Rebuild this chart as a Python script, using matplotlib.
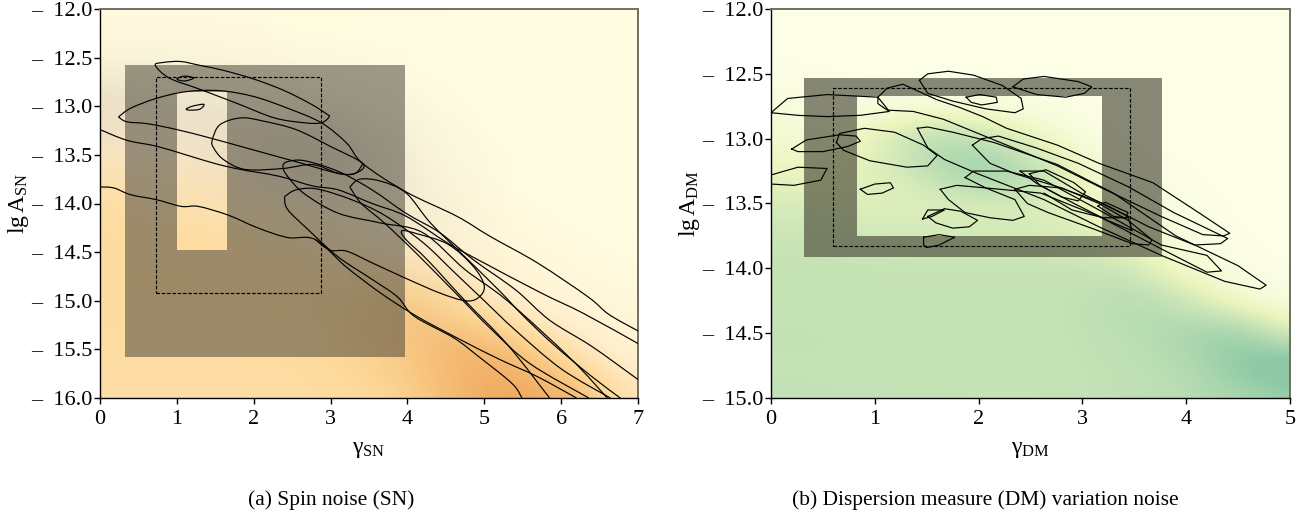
# -*- coding: utf-8 -*-
import numpy as np
import matplotlib
matplotlib.use('Agg')
import matplotlib.pyplot as plt
from matplotlib.colors import LinearSegmentedColormap
from matplotlib.patches import PathPatch, Rectangle
from matplotlib.path import Path

plt.rcParams['font.family'] = ['Liberation Serif', 'DejaVu Serif']
plt.rcParams['mathtext.fontset'] = 'custom'
plt.rcParams['mathtext.rm'] = 'Liberation Serif'
plt.rcParams['mathtext.it'] = 'Liberation Serif'
plt.rcParams['mathtext.default'] = 'rm'

# background density, rows go from top to bottom
sn_density = [
    [.02, .02, .02, .02, .01, .00, .00, .00],
    [.04, .03, .02, .01, .00, .00, .00, .00],
    [.16, .12, .08, .03, .00, .00, .00, .00],
    [.30, .26, .20, .10, .03, .00, .00, .00],
    [.44, .40, .34, .24, .10, .03, .00, .00],
    [.46, .46, .46, .40, .28, .10, .03, .00],
    [.46, .46, .46, .48, .66, .30, .10, .04],
    [.44, .44, .44, .48, .60, .86, .40, .12],
    [.42, .42, .42, .44, .50, .80, .88, .30],
]
sn_smoke = [
    [.00, .00, .00, .00, .00, .00, .00, .00],
    [.02, .02, .01, .00, .00, .00, .00, .00],
    [.20, .18, .14, .08, .02, .00, .00, .00],
    [.03, .04, .20, .35, .06, .00, .00, .00],
    [.00, .00, .02, .10, .10, .00, .00, .00],
    [.00, .00, .00, .00, .04, .00, .00, .00],
    [.00, .00, .00, .00, .08, .00, .00, .00],
    [.00, .00, .00, .00, .00, .00, .00, .00],
    [.00, .00, .00, .00, .00, .00, .00, .00],
]
dm_density = [
    [.00, .00, .00, .00, .00, .00, .00, .00, .00, .00, .00],
    [.00, .00, .00, .00, .00, .00, .00, .00, .00, .00, .00],
    [.01, .00, .00, .00, .00, .00, .00, .00, .00, .00, .00],
    [.04, .03, .02, .03, .03, .02, .00, .00, .00, .00, .00],
    [.10, .10, .24, .52, .45, .20, .03, .00, .00, .00, .00],
    [.20, .20, .24, .42, .68, .55, .14, .02, .00, .00, .00],
    [.32, .28, .26, .25, .28, .28, .20, .07, .01, .00, .00],
    [.38, .38, .35, .33, .33, .33, .30, .14, .03, .00, .00],
    [.40, .40, .40, .40, .40, .40, .40, .34, .07, .01, .00],
    [.40, .40, .40, .40, .40, .40, .42, .52, .38, .08, .01],
    [.42, .42, .41, .40, .40, .40, .42, .46, .56, .66, .24],
    [.41, .41, .40, .40, .40, .40, .41, .44, .48, .72, .92],
    [.42, .42, .41, .41, .40, .40, .41, .43, .46, .52, .62],
]

# SN credible contours
sn_top = [(.72, -12.58), (.82, -12.55), (1.05, -12.54), (1.3, -12.58), (1.6, -12.63), (2.0, -12.72), (2.4, -12.84),
          (2.75, -12.98), (2.95, -13.08), (2.98, -13.11), (2.88, -13.17), (2.66, -13.17), (2.27, -13.12),
          (1.78, -12.97), (1.28, -12.82), (.9, -12.71), (.72, -12.58)]
sn_small_a = [(1.0, -12.72), (1.1, -12.69), (1.22, -12.71), (1.1, -12.74), (1.0, -12.72)]
sn_small_b = [(1.12, -13.03), (1.2, -13.0), (1.35, -12.98), (1.3, -13.03), (1.18, -13.04), (1.12, -13.03)]
sn_long_a = [(.24, -13.11), (.4, -13.02), (.73, -12.92), (1.12, -12.85), (1.56, -12.84), (2.0, -12.9), (2.44, -13.02),
             (2.88, -13.17), (3.21, -13.38), (3.42, -13.59), (3.98, -13.88), (4.64, -14.13), (5.08, -14.34),
             (5.69, -14.61), (6.35, -14.96), (6.62, -15.14), (7.0, -15.31)]
sn_long_a2 = [(.24, -13.11), (.35, -13.16), (.62, -13.18), (1.0, -13.24), (1.45, -13.33), (2.0, -13.45),
              (2.55, -13.57), (3.1, -13.69), (3.32, -13.69), (3.42, -13.59)]
sn_long_b = [(0, -13.24), (.35, -13.35), (.73, -13.41), (1.12, -13.5), (1.5, -13.59), (1.83, -13.65), (2.33, -13.72),
             (2.77, -13.82), (3.1, -13.86), (3.54, -14.0), (3.98, -14.13), (4.53, -14.41), (4.97, -14.6),
             (5.74, -14.92), (6.29, -15.13), (7.0, -15.44)]
sn_blob = [(1.46, -13.35), (1.56, -13.19), (1.83, -13.12), (2.11, -13.15), (2.55, -13.24), (2.99, -13.41),
           (3.42, -13.59), (3.32, -13.69), (3.1, -13.69), (2.77, -13.6), (2.38, -13.64), (1.89, -13.65),
           (1.61, -13.55), (1.48, -13.43), (1.46, -13.35)]
sn_long_c = [(6.6, -16), (6.13, -15.6), (5.3, -15.0), (4.75, -14.68), (4.2, -14.3), (3.65, -14.2), (3.1, -14.1),
             (2.66, -13.9), (2.44, -13.72), (2.38, -13.62), (2.44, -13.57), (2.66, -13.56), (3.1, -13.67),
             (3.54, -13.86), (3.98, -14.1), (4.42, -14.3), (4.86, -14.58), (5.41, -14.89), (5.85, -15.2),
             (6.4, -15.47), (7.0, -15.81)]
sn_long_d = [(2.4, -13.93), (2.55, -13.86), (2.82, -13.85), (3.27, -13.96), (3.7, -14.12), (4.2, -14.4), (4.6, -14.7),
             (5.0, -15.0), (5.4, -15.3), (6.0, -15.7), (6.64, -16)]
sn_long_d2 = [(2.4, -13.93), (2.44, -14.06), (2.71, -14.27), (3.1, -14.55), (3.54, -14.78), (3.87, -14.96),
              (4.09, -15.16), (4.6, -15.38), (4.92, -15.57), (5.36, -15.85), (5.49, -16)]
sn_long_e = [(3.25, -13.83), (3.38, -13.75), (3.65, -13.77), (3.98, -13.89), (4.3, -14.2), (4.75, -14.55),
             (5.2, -14.9), (5.5, -15.15), (5.9, -15.45), (6.4, -15.78), (6.77, -16)]
sn_long_e2 = [(3.25, -13.83), (3.4, -14.0), (3.7, -14.2), (4.1, -14.5), (4.6, -14.9), (5.1, -15.3), (5.6, -15.65),
              (6.36, -16)]
sn_low = [(0, -13.83), (.18, -13.84), (.4, -13.91), (.73, -13.96), (1.06, -14.03), (1.28, -14.03), (1.67, -14.12),
          (2.05, -14.25), (2.44, -14.35), (2.8, -14.37), (3.2, -14.65), (3.65, -14.92), (4.1, -15.15), (4.64, -15.38),
          (5.19, -15.6), (5.69, -15.78), (6.2, -16)]
sn_low2 = [(2.8, -14.37), (2.99, -14.48), (3.21, -14.49), (3.54, -14.61), (3.98, -14.77), (4.42, -14.92), (4.75, -15.0),
           (4.92, -14.97), (5.0, -14.85), (4.86, -14.65), (4.53, -14.42), (4.12, -14.31), (3.93, -14.28),
           (3.98, -14.37), (4.26, -14.58), (4.75, -15.0), (5.3, -15.45), (5.85, -16)]

# DM credible contours
dm_a = [(0, -12.80), (.16, -12.69), (.54, -12.66), (1.03, -12.68), (1.14, -12.79), (.86, -12.82), (.54, -12.83),
        (.26, -12.82), (0, -12.80)]
dm_long_a = [(1.03, -12.68), (1.12, -12.61), (1.27, -12.58), (1.6, -12.70), (1.82, -12.76), (2.04, -12.83),
             (2.27, -12.92), (2.76, -13.05), (3.16, -13.19), (3.68, -13.34), (4.12, -13.57), (4.42, -13.73),
             (4.36, -13.75), (4.16, -13.74), (3.76, -13.6), (3.16, -13.37), (2.76, -13.21), (2.15, -13.01),
             (1.66, -12.85), (1.37, -12.79), (1.12, -12.78), (1.03, -12.73), (1.03, -12.68)]
dm_b = [(1.43, -12.55), (1.51, -12.5), (1.71, -12.48), (1.95, -12.51), (2.23, -12.59), (2.41, -12.69), (2.43, -12.77),
        (2.35, -12.8), (2.07, -12.77), (1.75, -12.71), (1.51, -12.65), (1.43, -12.55)]
dm_c = [(2.33, -12.6), (2.43, -12.54), (2.63, -12.52), (2.96, -12.56), (3.09, -12.6), (3.02, -12.65), (2.84, -12.68),
        (2.56, -12.66), (2.33, -12.6)]
dm_d = [(1.88, -12.68), (2.01, -12.66), (2.17, -12.68), (2.18, -12.72), (2.03, -12.74), (1.93, -12.72), (1.88, -12.68)]
dm_e = [(.2, -13.08), (.34, -13.01), (.66, -12.97), (.82, -12.98), (.86, -13.02), (.74, -13.06), (.5, -13.1),
        (.26, -13.1), (.2, -13.08)]
dm_f = [(.63, -13.03), (.66, -12.96), (.9, -12.92), (1.19, -12.95), (1.47, -13.05), (1.6, -13.13), (1.51, -13.21),
        (1.31, -13.22), (.95, -13.17), (.7, -13.09), (.63, -13.03)]
dm_g = [(0, -13.28), (.26, -13.22), (.54, -13.23), (.48, -13.32), (.22, -13.36), (0, -13.35)]
dm_h = [(.86, -13.39), (1.0, -13.35), (1.15, -13.34), (1.18, -13.38), (1.07, -13.42), (.93, -13.43), (.86, -13.39)]
dm_i = [(1.46, -13.62), (1.51, -13.55), (1.67, -13.55), (1.55, -13.6), (1.46, -13.62)]
dm_j = [(1.51, -13.6), (1.67, -13.54), (1.83, -13.56), (1.99, -13.63), (1.91, -13.68), (1.75, -13.69), (1.59, -13.65),
        (1.51, -13.6)]
dm_k = [(1.47, -13.76), (1.62, -13.74), (1.77, -13.76), (1.62, -13.82), (1.5, -13.84), (1.47, -13.82), (1.47, -13.76)]
dm_l = [(1.63, -13.39), (1.79, -13.36), (2.07, -13.38), (2.35, -13.47), (2.44, -13.6), (2.33, -13.63), (2.11, -13.61),
        (1.87, -13.57), (1.71, -13.47), (1.63, -13.39)]
dm_long_b = [(1.87, -13.3), (1.95, -13.25), (2.27, -13.25), (2.63, -13.32), (3.16, -13.55), (3.76, -13.82),
             (4.2, -13.9), (4.34, -14.02), (4.2, -14.03), (3.76, -13.85), (3.16, -13.6), (2.6, -13.42), (2.07, -13.38),
             (1.87, -13.3)]
dm_long_c = [(1.41, -12.92), (1.51, -12.91), (1.75, -12.95), (2.15, -13.03), (2.76, -13.2), (3.3, -13.42),
             (3.9, -13.75), (4.5, -13.98), (4.77, -14.13), (4.71, -14.16), (4.37, -14.1), (3.76, -13.9), (3.16, -13.68),
             (2.63, -13.47), (1.99, -13.27), (1.67, -13.16), (1.51, -13.07), (1.41, -12.92)]
dm_long_d = [(1.94, -13.05), (2.03, -13.0), (2.19, -12.98), (2.55, -13.07), (2.96, -13.19), (3.44, -13.37),
             (3.88, -13.57), (4.4, -13.77), (4.33, -13.81), (4.08, -13.82), (3.64, -13.68), (3.2, -13.5),
             (2.76, -13.37), (2.35, -13.27), (2.11, -13.19), (1.94, -13.05)]
dm_m = [(2.4, -13.25), (2.63, -13.25), (2.99, -13.42), (3.44, -13.6), (3.48, -13.71), (3.24, -13.63), (2.92, -13.5),
        (2.55, -13.34), (2.4, -13.25)]
dm_n = [(2.49, -13.27), (2.65, -13.24), (2.92, -13.34), (3.03, -13.41), (2.96, -13.48), (2.8, -13.45), (2.59, -13.36),
        (2.49, -13.27)]
dm_o = [(2.35, -13.39), (2.49, -13.36), (2.8, -13.38), (3.16, -13.5), (3.44, -13.63), (3.67, -13.78), (3.64, -13.82),
        (3.48, -13.81), (3.12, -13.7), (2.67, -13.57), (2.47, -13.5), (2.35, -13.39)]
dm_p = [(3.15, -13.52), (3.22, -13.49), (3.44, -13.57), (3.42, -13.61), (3.3, -13.6), (3.15, -13.52)]
dm_q = [(2.63, -13.42), (2.9, -13.55), (3.2, -13.61), (3.44, -13.61)]

sn_contours = [sn_top, sn_small_a, sn_small_b, sn_long_a, sn_long_a2, sn_long_b, sn_blob, sn_long_c, sn_long_d,
               sn_long_d2, sn_long_e, sn_long_e2, sn_low, sn_low2]
dm_contours = [dm_a, dm_long_a, dm_b, dm_c, dm_d, dm_e, dm_f, dm_g, dm_h, dm_i, dm_j, dm_k, dm_l, dm_long_b, dm_long_c,
               dm_long_d, dm_m, dm_n, dm_o, dm_p, dm_q]

# grey boxes: outer x0, x1, y0, y1, then the open window, then the dashed box
sn_outer = [.33, 3.97, -15.58, -12.58]
sn_window = [1.0, 1.65, -14.48, -12.85]
sn_dashed = [.73, 2.88, -14.92, -12.70]
dm_outer = [.32, 3.77, -13.91, -12.53]
dm_window = [.83, 3.19, -13.75, -12.67]
dm_dashed = [.60, 3.46, -13.83, -12.61]

sn_xticks = [0, 1, 2, 3, 4, 5, 6, 7]
sn_yticks = [-12.0, -12.5, -13.0, -13.5, -14.0, -14.5, -15.0, -15.5, -16.0]
dm_xticks = [0, 1, 2, 3, 4, 5]
dm_yticks = [-12.0, -12.5, -13.0, -13.5, -14.0, -14.5, -15.0]

sn_cmap = LinearSegmentedColormap.from_list('sn', [(0, '#fffce1'), (.25, '#ffeecb'), (.5, '#fdd796'),
                                                   (.8, '#f0aa5f'), (1, '#e09668')])
smoke_cmap = LinearSegmentedColormap.from_list('smoke', [(.5, .45, .5, 0), (.5, .45, .5, 1)])
dm_cmap = LinearSegmentedColormap.from_list('dm', [(0, '#fcfee6'), (.2, '#ebf5be'), (.4, '#c6e3b6'),
                                                   (.7, '#8ecaa6'), (1, '#8fb89f')])


def box_with_window(outer, window):
    x0, x1, y0, y1 = outer
    a0, a1, b0, b1 = window
    verts = [(x0, y0), (x1, y0), (x1, y1), (x0, y1), (x0, y0), (a0, b0), (a0, b1), (a1, b1), (a1, b0), (a0, b0)]
    codes = [Path.MOVETO, Path.LINETO, Path.LINETO, Path.LINETO, Path.CLOSEPOLY] * 2
    return Path(verts, codes)


def curve_through(pts):
    p = np.array(pts, dtype=float)
    closed = np.allclose(p[0], p[-1])
    verts = [p[0]]
    codes = [Path.MOVETO]
    n = len(p)
    for i in range(n - 1):
        if closed:
            before = p[i - 1] if i > 0 else p[n - 2]
            after = p[i + 2] if i + 2 < n else p[1]
        else:
            before = p[max(i - 1, 0)]
            after = p[min(i + 2, n - 1)]
        verts += [p[i] + (p[i + 1] - before) / 6, p[i + 1] - (after - p[i]) / 6, p[i + 1]]
        codes += [Path.CURVE4] * 3
    return Path(verts, codes)


def draw_panel(ax, density, cmap, xticks, yticks, contours, outer, window, dashed, box_color, box_alpha, smooth=False):
    ny, nx = np.array(density).shape
    dx = (xticks[-1] - xticks[0]) / (nx - 1)
    dy = (yticks[0] - yticks[-1]) / (ny - 1)
    ext = [xticks[0] - dx / 2, xticks[-1] + dx / 2, yticks[-1] - dy / 2, yticks[0] + dy / 2]
    ax.imshow(density, extent=ext, cmap=cmap, vmin=0, vmax=1, aspect='auto', interpolation='bicubic', zorder=0)
    ax.add_patch(PathPatch(box_with_window(outer, window), facecolor=box_color, edgecolor='none', alpha=box_alpha, zorder=2))
    ax.add_patch(Rectangle((dashed[0], dashed[2]), dashed[1] - dashed[0], dashed[3] - dashed[2], fill=False,
                           edgecolor='black', linestyle=(0, (3, 1.5)), linewidth=.85, zorder=3))
    for c in contours:
        if smooth:
            ax.add_patch(PathPatch(curve_through(c), fill=False, edgecolor='black', linewidth=.85, zorder=4))
        else:
            ax.plot([p[0] for p in c], [p[1] for p in c], color='black', linewidth=.85, zorder=4)
    ax.set_xlim(xticks[0], xticks[-1])
    ax.set_ylim(yticks[-1], yticks[0])
    ax.set_xticks(xticks)
    ax.set_xticklabels([str(t) for t in xticks], fontsize=16)
    ax.set_yticks(yticks)
    ax.set_yticklabels(['\u2013  %.1f' % abs(t) for t in yticks], fontsize=16)
    ax.tick_params(length=4, width=1)
    ax.tick_params(axis='x', pad=4.5)
    ax.tick_params(axis='y', pad=1.5)
    for side in ['top', 'right']:
        ax.spines[side].set_color('#6f6f62')
        ax.spines[side].set_linewidth(1.4)
    for side in ['left', 'bottom']:
        ax.spines[side].set_linewidth(1)


w, h = 1313, 516
fig = plt.figure(figsize=(w / 100, h / 100), dpi=100)
ax1 = fig.add_axes([100 / w, 1 - 398 / h, 538 / w, 389 / h])
ax2 = fig.add_axes([771 / w, 1 - 398 / h, 519 / w, 389 / h])

draw_panel(ax1, sn_density, sn_cmap, sn_xticks, sn_yticks, sn_contours, sn_outer, sn_window, sn_dashed, '#4a463a', .54,
           smooth=True)
ax1.imshow(sn_smoke, extent=[-.5, 7.5, -16.25, -11.75], cmap=smoke_cmap, vmin=0, vmax=1, aspect='auto',
           interpolation='bicubic', zorder=1)
ax1.set_xlim(0, 7)
ax1.set_ylim(-16, -12)
draw_panel(ax2, dm_density, dm_cmap, dm_xticks, dm_yticks, dm_contours, dm_outer, dm_window, dm_dashed, '#484838', .65)

ax1.set_xlabel(r'$\mathrm{\gamma_{SN}}$', fontsize=17, labelpad=7)
ax1.set_ylabel(r'$\mathrm{lg\,A_{SN}}$', fontsize=17, labelpad=0)
ax2.set_xlabel(r'$\mathrm{\gamma_{DM}}$', fontsize=17, labelpad=7)
ax2.set_ylabel(r'$\mathrm{lg\,A_{DM}}$', fontsize=17, labelpad=0)

fig.text(331 / w, 1 - 500 / h, '(a) Spin noise (SN)', ha='center', va='center', fontsize=15.4)
fig.text(985 / w, 1 - 500 / h, '(b) Dispersion measure (DM) variation noise', ha='center', va='center', fontsize=15.4)

fig.savefig('out.png', dpi=100)
